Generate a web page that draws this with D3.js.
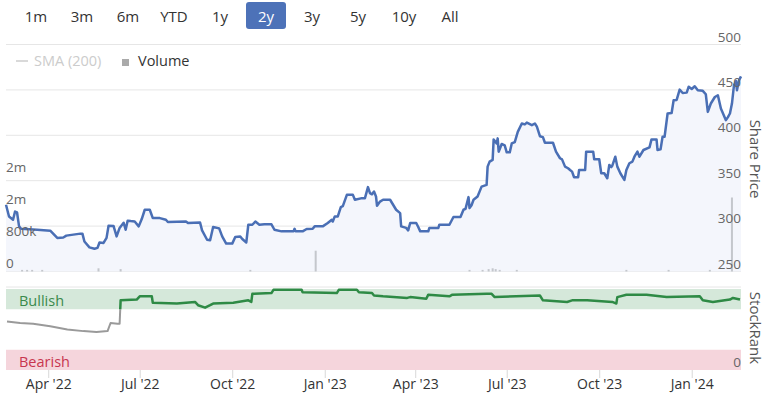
<!DOCTYPE html>
<html>
<head>
<meta charset="utf-8">
<script src="https://cdn.jsdelivr.net/npm/d3@7"></script>
<style>
  html, body { margin: 0; padding: 0; background: #fff; }
  svg { display: block; font-family: "Open Sans", "Noto Sans", sans-serif; }
</style>
</head>
<body>
<svg id="chart" width="765" height="394"></svg>
<script>
// ---------------- DATA ----------------
const rangeButtons = ["1m", "3m", "6m", "YTD", "1y", "2y", "3y", "5y", "10y", "All"];
const selectedRange = "2y";

const priceDates = [
  "2022-02-18","2022-02-21","2022-02-25","2022-02-27","2022-03-01","2022-03-03","2022-03-05","2022-03-21",
  "2022-04-03","2022-04-10","2022-04-16","2022-04-19","2022-05-03","2022-05-05","2022-05-07","2022-05-12",
  "2022-05-17","2022-05-20","2022-05-22","2022-05-26","2022-05-29","2022-05-31","2022-06-05","2022-06-08",
  "2022-06-11","2022-06-15","2022-06-17","2022-06-19","2022-06-22","2022-06-26","2022-06-30","2022-07-03",
  "2022-07-06","2022-07-11","2022-07-14","2022-07-21","2022-07-27","2022-07-29","2022-08-16","2022-08-18",
  "2022-08-30","2022-09-01","2022-09-06","2022-09-09","2022-09-12","2022-09-18","2022-09-21","2022-09-25",
  "2022-10-01","2022-10-04","2022-10-09","2022-10-11","2022-10-15","2022-10-17","2022-10-21","2022-10-24",
  "2022-10-28","2022-11-02","2022-11-09","2022-11-12","2022-11-19","2022-12-01","2022-12-02","2022-12-03",
  "2022-12-10","2022-12-14","2022-12-20","2022-12-22","2022-12-30","2023-01-04","2023-01-08","2023-01-09",
  "2023-01-11","2023-01-14","2023-01-17","2023-01-19","2023-01-23","2023-01-29","2023-01-31","2023-02-07",
  "2023-02-10","2023-02-13","2023-02-15","2023-02-17","2023-02-19","2023-02-21","2023-02-22","2023-02-25",
  "2023-02-28","2023-03-07","2023-03-10","2023-03-13","2023-03-17","2023-03-18","2023-03-23","2023-03-25",
  "2023-03-27","2023-04-02","2023-04-04","2023-04-06","2023-04-14","2023-04-15","2023-04-24","2023-04-25",
  "2023-05-05","2023-05-09","2023-05-16","2023-05-19","2023-05-21","2023-05-24","2023-05-25","2023-05-27",
  "2023-05-29","2023-06-02","2023-06-06","2023-06-11","2023-06-12","2023-06-14","2023-06-17","2023-06-18",
  "2023-06-21","2023-06-22","2023-06-23","2023-06-26","2023-06-29","2023-07-01","2023-07-04","2023-07-06",
  "2023-07-09","2023-07-12","2023-07-16","2023-07-19","2023-07-21","2023-07-26","2023-07-29","2023-07-31",
  "2023-08-03","2023-08-06","2023-08-08","2023-08-16","2023-08-19","2023-08-23","2023-08-25","2023-08-28",
  "2023-08-31","2023-09-02","2023-09-04","2023-09-06","2023-09-10","2023-09-11","2023-09-17","2023-09-18",
  "2023-09-25","2023-09-26","2023-10-01","2023-10-03","2023-10-06","2023-10-09","2023-10-11","2023-10-13",
  "2023-10-14","2023-10-17","2023-10-19","2023-10-22","2023-10-26","2023-10-28","2023-10-31","2023-11-03",
  "2023-11-05","2023-11-08","2023-11-10","2023-11-14","2023-11-20","2023-11-22","2023-11-27","2023-11-28",
  "2023-12-01","2023-12-03","2023-12-05","2023-12-08","2023-12-12","2023-12-14","2023-12-17","2023-12-20",
  "2023-12-23","2023-12-27","2023-12-29","2024-01-01","2024-01-04","2024-01-07","2024-01-12","2024-01-15",
  "2024-01-17","2024-01-20","2024-01-24","2024-01-27","2024-01-30","2024-02-04","2024-02-06","2024-02-08",
  "2024-02-10","2024-02-12","2024-02-14","2024-02-15","2024-02-17","2024-02-19"
];
const priceValues = [
  323.5,310.6,307.0,316.0,315.0,299.7,297.0,296.0,
  295.0,287.0,287.5,289.5,291.7,291.7,283.0,276.6,
  275.0,276.0,282.0,281.5,287.0,300.4,300.0,288.7,
  298.0,303.7,296.0,306.0,305.5,305.0,299.7,307.8,
  318.0,318.0,308.8,308.8,307.0,304.5,305.0,303.4,
  304.0,295.3,285.0,284.5,299.0,297.5,288.7,280.7,
  280.7,288.0,288.5,285.8,282.0,301.5,301.5,305.0,
  301.5,302.0,302.0,296.0,294.2,294.2,297.0,294.2,
  294.2,296.8,297.0,299.7,299.7,303.4,307.0,305.0,
  310.7,310.7,321.0,322.0,334.4,334.4,329.0,330.8,
  330.8,342.9,336.3,335.0,338.0,332.6,322.4,327.0,
  329.0,329.0,323.5,318.0,314.3,299.7,298.0,295.3,
  303.4,303.4,299.0,294.2,294.2,297.9,297.9,301.5,
  301.5,310.0,310.0,318.0,319.0,331.9,319.8,323.0,
  329.0,332.6,343.5,345.4,365.5,371.0,373.0,395.5,
  391.0,396.6,381.9,390.4,389.0,381.2,381.2,391.0,
  392.5,403.8,413.0,412.0,414.0,411.2,413.0,409.5,
  399.0,398.0,391.8,391.8,382.0,374.7,373.5,365.5,
  363.7,361.8,360.0,353.8,353.8,361.8,361.8,382.0,
  382.0,373.6,373.6,358.2,358.2,352.7,367.3,365.0,
  366.5,376.4,365.5,358.2,350.9,361.8,369.2,371.0,
  376.4,382.0,376.4,383.8,386.7,395.5,395.5,383.8,
  384.5,398.4,398.4,424.0,424.5,438.6,439.0,450.3,
  446.6,447.0,453.5,451.0,454.0,449.6,449.0,445.2,
  425.8,435.0,442.2,444.1,429.5,416.7,420.0,424.0,
  435.0,455.0,459.8,449.6,460.5,464.9
];

const volumeDates = [
  "2022-03-06","2022-03-11","2022-03-16","2022-03-26","2022-05-21","2022-06-12","2022-10-19","2022-12-23",
  "2023-05-25","2023-06-07","2023-06-13","2023-06-17","2023-06-20","2023-06-24","2023-07-11","2023-10-28",
  "2023-12-09","2024-01-19","2024-02-10"
];
const volumeValues = [
  40000,40000,40000,40000,80000,60000,40000,520000,
  40000,40000,60000,80000,60000,40000,40000,40000,
  40000,40000,1850000
];

const rankDates = [
  "2022-02-19","2022-03-04","2022-03-17","2022-04-03","2022-04-20","2022-05-06","2022-05-19","2022-05-30",
  "2022-06-02","2022-06-09","2022-06-11","2022-06-12","2022-06-28","2022-07-01","2022-07-13","2022-07-14",
  "2022-08-07","2022-08-25","2022-08-28","2022-09-04","2022-09-09","2022-09-12","2022-10-02","2022-10-17",
  "2022-10-20","2022-10-21","2022-11-09","2022-11-11","2022-12-09","2022-12-10","2023-01-13","2023-01-15",
  "2023-02-02","2023-02-04","2023-02-17","2023-02-19","2023-02-28","2023-03-24","2023-03-27","2023-04-12",
  "2023-04-14","2023-05-05","2023-05-08","2023-06-11","2023-06-16","2023-06-19","2023-08-03","2023-08-06",
  "2023-08-30","2023-09-04","2023-09-19","2023-10-14","2023-10-18","2023-10-19","2023-10-28","2023-11-17",
  "2023-12-07","2024-01-09","2024-01-12","2024-01-22","2024-02-08","2024-02-11","2024-02-18"
];
const rankValues = [
  60,58,57,54,50,48,47,48,
  58,57,57,86,87,91,91,83,
  82,84,80,77,80,82,83,86,
  84,94,95,99,99,96,95,99,
  99,96,95,92,91,89,90,88,
  93,91,93,94,94,90,92,86,
  84,86,86,84,82,90,93,93,
  90,91,86,84,87,89,87
];

const priceTicks = [250, 300, 350, 400, 450, 500];
const volumeTicks = [0, 800000, 1600000, 2400000];
const dateTicks = ["2022-04-01","2022-07-01","2022-10-01","2023-01-01","2023-04-01","2023-07-01","2023-10-01","2024-01-01"];
const xDomain = ["2022-02-18", "2024-02-19"];
const rankBands = [
  { label: "Bullish", from: 75, to: 100 },
  { label: "Bearish", from: 0, to: 25 }
];
const legendItems = ["SMA (200)", "Volume"];

// ---------------- CHART ----------------
const parse = d3.timeParse("%Y-%m-%d");
const svg = d3.select("#chart");

const L = 6, R = 741;
const x = d3.scaleTime().domain(xDomain.map(parse)).range([L, R]);
const yP = d3.scaleLinear().domain([250, 500]).range([271.5, 44.5]);
const yV = d3.scaleLinear().domain([0, 2400000]).range([271.5, 175.5]);
const yR = d3.scaleLinear().domain([0, 100]).range([370, 289]);

const priceData = priceDates.map((d, i) => ({ date: parse(d), value: priceValues[i] }));
const volumeData = volumeDates.map((d, i) => ({ date: parse(d), value: volumeValues[i] }));
const rankData = rankDates.map((d, i) => ({ date: parse(d), value: rankValues[i] }));

// range selector
const btnW = 46, btnX0 = 13;
const btns = svg.append("g");
rangeButtons.forEach((b, i) => {
  const cx = btnX0 + btnW * i + btnW / 2;
  if (b === selectedRange) {
    btns.append("rect").attr("x", cx - 20).attr("y", 2).attr("width", 40).attr("height", 27)
      .attr("rx", 3).attr("fill", "#4d72b8");
  }
  btns.append("text").attr("x", cx).attr("y", 22).attr("text-anchor", "middle")
    .attr("font-size", 15).attr("fill", b === selectedRange ? "#fff" : "#333").text(b);
});

// price gridlines
svg.append("g").selectAll("line").data(priceTicks).join("line")
  .attr("x1", L).attr("x2", R).attr("y1", d => yP(d)).attr("y2", d => yP(d))
  .attr("stroke", "#e6e6e6").attr("stroke-width", 1);

// area + line
svg.append("path").datum(priceData)
  .attr("d", d3.area().x(d => x(d.date)).y0(yP(250)).y1(d => yP(d.value)))
  .attr("fill", "#f4f6fc");

// volume bars
svg.append("g").selectAll("rect").data(volumeData).join("rect")
  .attr("x", d => x(d.date) - 1).attr("width", 2)
  .attr("y", d => yV(d.value)).attr("height", d => yV(0) - yV(d.value))
  .attr("fill", "#c4c7cc");

svg.append("path").datum(priceData)
  .attr("d", d3.line().x(d => x(d.date)).y(d => yP(d.value)))
  .attr("fill", "none").attr("stroke", "#4a6fb5").attr("stroke-width", 2.5)
  .attr("stroke-linejoin", "round");

// price labels (right)
svg.append("g").selectAll("text").data(priceTicks).join("text")
  .attr("x", R).attr("y", d => yP(d) - 3).attr("text-anchor", "end")
  .attr("font-size", 13.5).attr("fill", "#666").text(d => d);

// volume labels (left)
const fmtVol = v => v >= 1e6 ? Math.round(v / 1e6) + "m" : v >= 1e3 ? Math.round(v / 1e3) + "k" : String(v);
svg.append("g").selectAll("text").data(volumeTicks).join("text")
  .attr("x", L).attr("y", d => yV(d) - 4).attr("text-anchor", "start")
  .attr("font-size", 13.5).attr("fill", "#666").text(fmtVol);

// legend
const lg = svg.append("g");
lg.append("line").attr("x1", 16).attr("x2", 28).attr("y1", 61).attr("y2", 61)
  .attr("stroke", "#cccccc").attr("stroke-width", 1.5);
lg.append("text").attr("x", 34).attr("y", 66).attr("font-size", 14.5).attr("fill", "#cccccc").text(legendItems[0]);
lg.append("rect").attr("x", 122).attr("y", 59).attr("width", 7).attr("height", 7).attr("fill", "#aaaaaa");
lg.append("text").attr("x", 138).attr("y", 66).attr("font-size", 14.5).attr("fill", "#333").text(legendItems[1]);

// Share Price title
svg.append("text").attr("transform", `translate(750,159) rotate(90)`)
  .attr("text-anchor", "middle").attr("font-size", 15).attr("fill", "#555").text("Share Price");

// ---------- StockRank panel ----------
svg.append("line").attr("x1", L).attr("x2", R).attr("y1", 287).attr("y2", 287)
  .attr("stroke", "#e6e6e6");

svg.append("g").selectAll("rect").data(rankBands).join("rect")
  .attr("x", L).attr("width", R - L)
  .attr("y", d => yR(d.to)).attr("height", d => yR(d.from) - yR(d.to))
  .attr("fill", d => d.label === "Bullish" ? "#d5e8da" : "#f5d5dc");

svg.append("g").selectAll("text").data(rankBands).join("text")
  .attr("x", 19).attr("y", d => yR(d.from) - 3)
  .attr("font-size", 14.5)
  .attr("fill", d => d.label === "Bullish" ? "#3a8a4c" : "#c8354f")
  .text(d => d.label);

const defs = svg.append("defs");
defs.append("clipPath").attr("id", "clipGreen").append("rect")
  .attr("x", 0).attr("y", 0).attr("width", 765).attr("height", yR(75));
defs.append("clipPath").attr("id", "clipGray").append("rect")
  .attr("x", 0).attr("y", yR(75)).attr("width", 765).attr("height", 394 - yR(75));

const rankLine = d3.line().x(d => x(d.date)).y(d => yR(d.value));
svg.append("path").datum(rankData).attr("d", rankLine)
  .attr("clip-path", "url(#clipGray)")
  .attr("fill", "none").attr("stroke", "#9a9a9a").attr("stroke-width", 2).attr("stroke-linejoin", "round");
svg.append("path").datum(rankData).attr("d", rankLine)
  .attr("clip-path", "url(#clipGreen)")
  .attr("fill", "none").attr("stroke", "#2e8a45").attr("stroke-width", 2.5).attr("stroke-linejoin", "round");

svg.append("text").attr("x", R).attr("y", yR(0) - 3).attr("text-anchor", "end")
  .attr("font-size", 13.5).attr("fill", "#666").text("0");

svg.append("text").attr("transform", `translate(750,328) rotate(90)`)
  .attr("text-anchor", "middle").attr("font-size", 15).attr("fill", "#555").text("StockRank");

// x axis
const xAxis = d3.axisBottom(x)
  .tickValues(dateTicks.map(parse))
  .tickFormat(d3.timeFormat("%b '%y"))
  .tickSize(8).tickPadding(1);
const gx = svg.append("g").attr("transform", `translate(0,${yR(0)})`).call(xAxis);
gx.select(".domain").remove();
gx.selectAll(".tick line").attr("stroke", "#d8d8d8");
gx.selectAll(".tick text").attr("font-size", 14).attr("fill", "#333")
  .attr("font-family", "\"Open Sans\", \"Noto Sans\", sans-serif");
</script>
</body>
</html>
